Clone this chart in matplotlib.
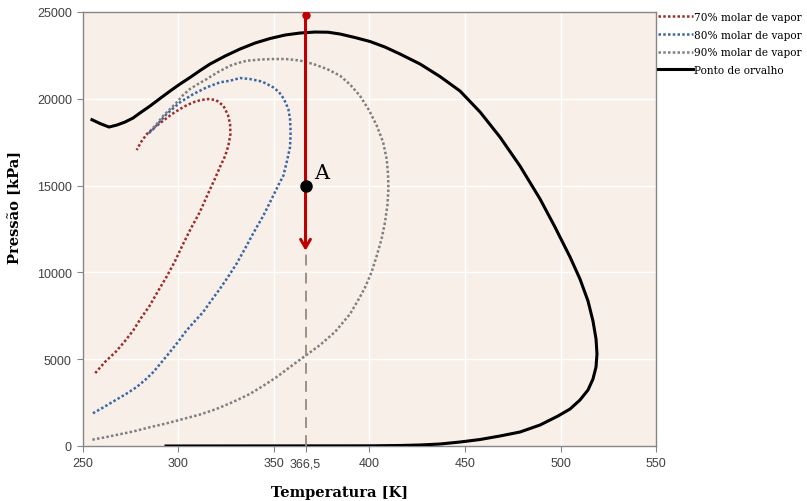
import matplotlib
matplotlib.use("Agg")
import matplotlib.pyplot as plt

# ---- data ----
t70 = [256.4, 261.5, 267.4, 272.0, 276.2, 280.4, 284.9, 289.3, 293.6, 298.2, 302.4, 306.6, 311.1, 314.9,
       319.0, 321.7, 324.4, 326.1, 327.2, 327.0, 325.9, 323.5, 319.6, 315.6, 311.8, 308.6, 304.5, 300.8,
       296.6, 292.0, 287.7, 283.4, 280.4, 278.1]
p70 = [4200, 4838, 5455, 6048, 6641, 7373, 8081, 8928, 9717, 10656, 11635, 12557, 13461, 14400,
       15379, 16070, 16704, 17297, 17971, 18547, 19066, 19601, 19930, 19987, 19930, 19832, 19642, 19411,
       19123, 18737, 18374, 17971, 17510, 17050]

t80 = [255.2, 261.0, 267.4, 272.5, 277.9, 282.5, 286.7, 290.8, 295.4, 299.7, 304.1, 308.6, 312.8, 317.0,
       321.6, 325.9, 330.3, 334.7, 339.5, 344.4, 349.0, 352.6, 354.9, 356.8, 358.4, 358.7, 358.4, 357.5,
       355.2, 352.6, 349.6, 343.7, 337.4, 332.2, 327.0, 321.7, 314.8, 307.8, 300.8, 293.8, 286.8, 283.5]
p80 = [1884, 2246, 2667, 2995, 3381, 3802, 4245, 4781, 5397, 5990, 6641, 7200, 7701, 8352,
       9043, 9734, 10483, 11347, 12326, 13265, 14285, 15091, 15569, 16416, 17222, 18069, 18835, 19411,
       19987, 20390, 20661, 20995, 21139, 21197, 21041, 20949, 20661, 20275, 19797, 19123, 18259, 17914]

t90 = [254.9, 261.0, 267.4, 276.2, 284.9, 293.5, 302.4, 311.3, 319.8, 328.5, 337.3, 344.2, 351.2, 356.3,
       361.7, 366.5, 374.1, 381.9, 389.8, 395.0, 397.7, 401.1, 403.8, 406.3, 408.1, 409.4, 409.9, 409.7, 409.0,
       407.1, 403.8, 399.7, 395.0, 389.8, 384.6, 377.8, 370.6, 363.6, 356.3, 349.6, 342.7, 335.7, 331.2,
       327.0, 320.7, 314.8, 310.2, 306.0, 302.4, 299.1, 295.6, 292.0, 288.6, 285.6]
p90 = [363, 490, 634, 835, 1077, 1296, 1555, 1814, 2131, 2534, 2995, 3456, 3957, 4378,
       4821, 5200, 5818, 6566, 7603, 8582, 9141, 10022, 10961, 11923, 12885, 13882, 14803, 15667, 16531,
       17510, 18449, 19354, 20177, 20822, 21329, 21715, 22003, 22205, 22291, 22291, 22262, 22193, 22061,
       21905, 21542, 21139, 20851, 20563, 20218, 19797, 19411, 19025, 18547, 18202]

t_dew = [254.7, 258.9, 263.6, 267.8, 272.0, 276.2, 279.8, 285.1, 290.3, 295.6, 300.8, 306.0, 311.3, 316.5,
         324.4, 332.2, 340.1, 347.9, 355.8, 363.6, 371.5, 378.3, 384.6, 392.4, 400.3, 408.1, 416.0, 426.5,
         436.9, 447.4, 457.9, 468.3, 478.8, 489.3, 497.1, 505.0, 510.2, 514.4, 517.0, 518.6, 519.1, 518.6,
         517.0, 514.4, 510.2, 505.0, 498.7, 489.3, 478.8, 468.3, 457.9, 447.4, 436.9, 426.5, 416.0, 400.3,
         293.5]
p_dew = [18795, 18576, 18374, 18490, 18662, 18893, 19181, 19584, 20016, 20448, 20851, 21226, 21629, 22003,
         22464, 22867, 23213, 23472, 23674, 23789, 23846, 23835, 23731, 23530, 23300, 22982, 22579, 22003,
         21283, 20448, 19238, 17798, 16128, 14227, 12614, 10886, 9619, 8352, 7200, 6163, 5299, 4550,
         3859, 3226, 2650, 2131, 1728, 1210, 806, 576, 374, 230, 115, 58, 29, 10,
         0]

labels = ["70% molar de vapor", "80% molar de vapor", "90% molar de vapor", "Ponto de orvalho"]

t_A = 366.5
p_A = 15000
p_top = 24850
p_arrow_end = 11250

xticks = [250, 300, 350, 366.5, 400, 450, 500, 550]
xticklabels = ["250", "300", "350", "366,5", "400", "450", "500", "550"]
yticks = [0, 5000, 10000, 15000, 20000, 25000]

# ---- figure ----
fig = plt.figure(figsize=(8.07, 5.02), dpi=100)
ax = fig.add_axes([83/807, 1-447/502, (656-83)/807, (447-13)/502])
ax.set_facecolor("#F8EFE9")
ax.set_xlim(250, 550)
ax.set_ylim(0, 25000)

for v in [300, 350, 400, 450, 500]:
    ax.axvline(v, color="white", lw=1.0, zorder=0)
for v in yticks[1:-1]:
    ax.axhline(v, color="white", lw=1.0, zorder=0)

dot = (0, (1, 0.9))
ax.plot(t70, p70, color="#9B2D2B", lw=1.8, ls=dot, label=labels[0], zorder=3)
ax.plot(t80, p80, color="#3A67A3", lw=1.8, ls=dot, label=labels[1], zorder=3)
ax.plot(t90, p90, color="#7F7F7F", lw=1.8, ls=dot, label=labels[2], zorder=3)
ax.plot(t_dew, p_dew, color="black", lw=2.2, label=labels[3], zorder=4, solid_joinstyle="round")

# dashed line and arrow
ax.plot([t_A, t_A], [0, p_arrow_end], color="#968A7E", lw=1.3, ls=(0, (6, 4)), zorder=5)
ax.annotate("", xy=(t_A, p_arrow_end), xytext=(t_A, p_top),
            arrowprops=dict(arrowstyle="->,head_length=0.6,head_width=0.35", color="#C00000", lw=2.2,
                            shrinkA=0, shrinkB=0), zorder=6)
ax.plot([t_A], [p_top], "o", color="#C00000", ms=5, zorder=7)
ax.plot([t_A], [p_A], "o", color="black", ms=8, zorder=8)
ax.text(t_A + 4.5, p_A + 200, "A", fontsize=15, family="DejaVu Serif", va="bottom", ha="left", zorder=8)

for s in ax.spines.values():
    s.set_color("#868686")
    s.set_linewidth(1.0)

ax.set_xticks(xticks)
ax.set_xticklabels(xticklabels)
ax.set_yticks(yticks)
ax.tick_params(axis="both", direction="out", length=4, color="#868686", labelsize=9,
               labelcolor="#404040", pad=4)
for lab in ax.get_xticklabels() + ax.get_yticklabels():
    lab.set_family("Liberation Sans")

fig.text(340/807, 1-493/502, "Temperatura [K]", fontsize=10.5, fontweight="bold",
         family="DejaVu Serif", ha="center", va="center")
fig.text(15/807, 1-207/502, "Pressão [kPa]", fontsize=10.5, fontweight="bold",
         family="DejaVu Serif", ha="center", va="center", rotation=90)

leg = fig.legend(loc="upper left", bbox_to_anchor=(656/807, 1-11/502), frameon=False,
                 prop={"family": "DejaVu Serif", "size": 7.6}, handlelength=3.3,
                 handletextpad=0.1, labelspacing=0.72, borderaxespad=0, borderpad=0.2)

fig.savefig("out.png", dpi=100, facecolor="white")
